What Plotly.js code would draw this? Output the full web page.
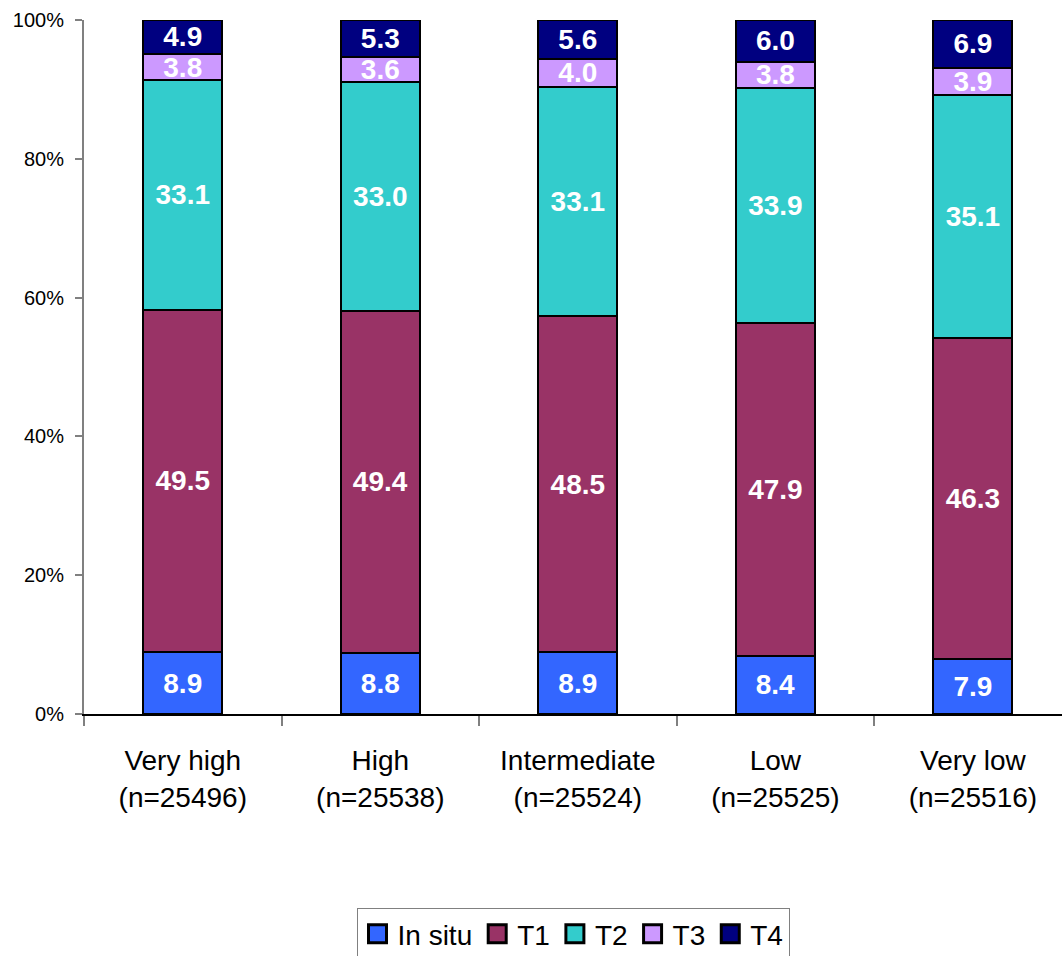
<!DOCTYPE html>
<html>
<head>
<meta charset="utf-8">
<script src="https://cdn.plot.ly/plotly-3.0.1.min.js"></script>
<style>
html,body{margin:0;padding:0;background:#fff;}
#chart{width:1062px;height:956px;}
</style>
</head>
<body>
<div id="chart"></div>
<script>
const categories = ["Very high<br>(n=25496)", "High<br>(n=25538)", "Intermediate<br>(n=25524)", "Low<br>(n=25525)", "Very low<br>(n=25516)"];
const seriesNames = ["In situ", "T1", "T2", "T3", "T4"];
const inSitu = [8.9, 8.8, 8.9, 8.4, 7.9];
const t1 = [49.5, 49.4, 48.5, 47.9, 46.3];
const t2 = [33.1, 33.0, 33.1, 33.9, 35.1];
const t3 = [3.8, 3.6, 4.0, 3.8, 3.9];
const t4 = [4.9, 5.3, 5.6, 6.0, 6.9];
const colors = ["#3366FF", "#993366", "#33CCCC", "#CC99FF", "#000080"];
const yTickVals = [0, 20, 40, 60, 80, 100];
const yTickText = ["0%", "20%", "40%", "60%", "80%", "100%"];

const FONT = "Liberation Sans, Arial, sans-serif";
const seriesValues = [inSitu, t1, t2, t3, t4];

const traces = seriesValues.map((vals, i) => ({
  type: "bar",
  name: seriesNames[i],
  x: categories,
  y: vals,
  text: vals,
  texttemplate: "%{text:.1f}",
  textposition: "inside",
  insidetextanchor: "middle",
  constraintext: "none",
  textangle: 0,
  textfont: {family: FONT, size: 28, color: "#FFFFFF", weight: "bold"},
  marker: {color: colors[i], line: {color: "#000000", width: 2}},
  width: 0.4,
  hoverinfo: "skip"
}));

const layout = {
  width: 1062,
  height: 956,
  barmode: "stack",
  barnorm: "percent",
  margin: {l: 84, r: 0, t: 20, b: 242, autoexpand: false},
  paper_bgcolor: "#FFFFFF",
  plot_bgcolor: "#FFFFFF",
  font: {family: FONT, color: "#000000"},
  showlegend: true,
  legend: {
    orientation: "h",
    x: 0.5, xanchor: "center",
    y: -0.2796, yanchor: "top",
    bordercolor: "#808080", borderwidth: 1,
    font: {family: FONT, size: 28, color: "#000000"},
    traceorder: "normal",
    itemclick: false
  },
  xaxis: {
    type: "category",
    range: [-0.5, 4.451],
    showline: true, linecolor: "#000000", linewidth: 1.5,
    ticks: "outside", tickson: "boundaries", ticklen: 10, tickcolor: "#808080", tickwidth: 2,
    ticklabelstandoff: 21,
    tickfont: {family: FONT, size: 28, color: "#000000"},
    showgrid: false, zeroline: false,
    fixedrange: true
  },
  yaxis: {
    range: [0, 100],
    tickmode: "array",
    tickvals: yTickVals,
    ticktext: yTickText,
    showline: true, linecolor: "#808080", linewidth: 2,
    ticks: "outside", ticklen: 7, tickcolor: "#808080", tickwidth: 2,
    ticklabelstandoff: 7,
    tickfont: {family: FONT, size: 20, color: "#000000"},
    showgrid: false, zeroline: false,
    fixedrange: true
  }
};

Plotly.newPlot("chart", traces, layout, {displayModeBar: false, staticPlot: true}).then(gd => {
  // enlarge legend squares to match reference
  gd.querySelectorAll(".legendpoints path").forEach(p => {
    const t = p.getAttribute("transform") || "";
    p.setAttribute("transform", t + " scale(1.5)");
  });
});
</script>
</body>
</html>
